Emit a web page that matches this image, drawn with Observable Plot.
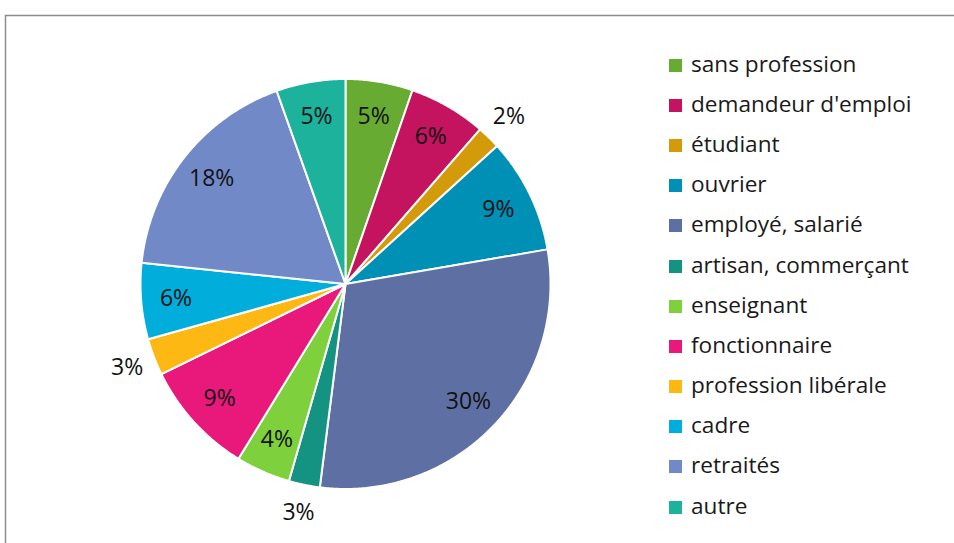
<!DOCTYPE html>
<html><head><meta charset="utf-8">
<script src="https://cdn.jsdelivr.net/npm/d3@7"></script>
<script src="https://cdn.jsdelivr.net/npm/@observablehq/plot@0.6"></script>
<style>
html,body{margin:0;padding:0;background:#fff;overflow:hidden}
#wrap{position:relative;width:954px;height:543px}
#legend{position:absolute;left:669px;top:43px;font-family:"Open Sans",sans-serif;font-size:22.6px;color:#1a1a1a}
.row{height:40.2px;display:flex;align-items:center;white-space:nowrap}
.sw{width:13px;height:13px;margin-right:9px;flex:none;position:relative;top:2px}
</style></head><body><div id="wrap"></div>
<script>
const categories = ["sans profession","demandeur d'emploi","étudiant","ouvrier","employé, salarié","artisan, commerçant","enseignant","fonctionnaire","profession libérale","cadre","retraités","autre"];
const values = [5.3, 6.1, 1.85, 9.05, 29.7, 2.45, 4.3, 9.0, 2.9, 6.0, 17.9, 5.45];
const labels = ["5%","6%","2%","9%","30%","3%","4%","9%","3%","6%","18%","5%"];
const colors = ["#67ab33","#c4135f","#d39a0a","#008fb5","#5e70a3","#149382","#7ed03d","#e8197a","#fdb813","#00addb","#718ac7","#1cb29c"];

const W = 954, H = 543, R = 205, cx = 345, cy = 283.5;
const total = d3.sum(values);

// slice outlines (unit radius, clockwise from north)
const slicePts = [];
const labelData = [];
let cum = 0;
values.forEach((v, i) => {
  const a0 = cum / total * 2 * Math.PI, a1 = (cum + v) / total * 2 * Math.PI;
  const n = Math.max(2, Math.ceil((a1 - a0) / (Math.PI / 360)));
  slicePts.push({cat: categories[i], x: 0, y: 0});
  for (let k = 0; k <= n; k++) {
    const a = a0 + (a1 - a0) * k / n;
    slicePts.push({cat: categories[i], x: Math.sin(a), y: Math.cos(a)});
  }
  slicePts.push({cat: categories[i], x: 0, y: 0});
  const am = (a0 + a1) / 2;
  const r = v < 3 ? 1.14 : 0.83;
  labelData.push({text: labels[i], x: r * Math.sin(am), y: r * Math.cos(am)});
  cum += v;
});

const chart = Plot.plot({
  width: W, height: H,
  margin: 0,
  style: {overflow: "hidden", fontFamily: "Open Sans, sans-serif", background: "#fff"},
  x: {domain: [-cx / R, (W - cx) / R], axis: null},
  y: {domain: [-(H - cy) / R, cy / R], axis: null},
  color: {domain: categories, range: colors},
  marks: [
    Plot.frame({stroke: "#8c8c8c", strokeWidth: 1.5, insetLeft: 5, insetTop: 15, insetRight: -20, insetBottom: -20}),
    Plot.line(slicePts, {x: "x", y: "y", z: "cat", fill: "cat", stroke: "#fff", strokeWidth: 2, strokeLinejoin: "round", curve: "linear"}),
    Plot.text(labelData, {x: "x", y: "y", text: "text", fontSize: 23, fontFamily: "Open Sans, sans-serif", fill: "#111"})
  ]
});
const wrap = document.getElementById("wrap");
wrap.appendChild(chart);

const legend = document.createElement("div");
legend.id = "legend";
categories.forEach((c, i) => {
  const row = document.createElement("div");
  row.className = "row";
  const sw = document.createElement("span");
  sw.className = "sw";
  sw.style.background = colors[i];
  const t = document.createElement("span");
  t.textContent = c;
  row.appendChild(sw); row.appendChild(t);
  legend.appendChild(row);
});
wrap.appendChild(legend);
</script></body></html>
